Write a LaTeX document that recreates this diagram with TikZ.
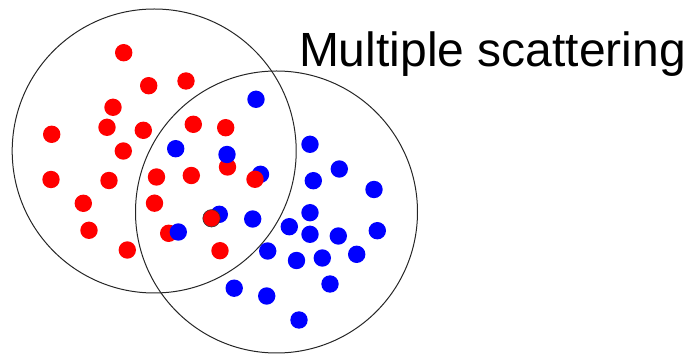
\documentclass[tikz,border=0pt]{standalone}
\usepackage{fontspec}
\setmainfont{Liberation Sans}
\begin{document}
\begin{tikzpicture}[x=1pt,y=-1pt,
  ring/.style={circle,draw=black!85,line width=1pt,inner sep=0pt,fill=none},
  reddot/.style={circle,fill={rgb,255:red,255;green,0;blue,0},inner sep=0pt,minimum size=17.4pt,draw=none},
  bluedot/.style={circle,fill={rgb,255:red,0;green,0;blue,255},inner sep=0pt,minimum size=17.4pt,draw=none},
  outlined/.style={draw=black!80,line width=0.6pt},
  title/.style={inner sep=0pt,anchor=base west,font=\fontsize{48}{58}\selectfont}]
\useasboundingbox (0,0) rectangle (689,355);
% large circles
\node[ring,minimum size=284pt] (c1) at (154.2,151) {};
\node[ring,minimum size=282pt] (c2) at (276.5,212) {};
% title
\node[title] (t) at (298.8,66.7) {Multiple scattering};
% red dots (below)
\foreach \n/\x/\y in {r1/123.7/52.7, r2/148.7/85.7, r3/186/81, r4/113/107.3,
  r5/51.7/134.3, r6/107/127.3, r7/143.3/130.3, r8/123.3/151, r9/193.3/124.3,
  r10/225.7/127.7, r11/227.5/167, r12/51/179.5, r13/109/180.5, r14/156.5/177,
  r15/191.3/175.5, r17/83.3/203.3, r18/154.5/203.2, r19/89/230.3,
  r20/127.3/250, r21/168.7/233.3, r23/220/250.7}
  \node[reddot] (\n) at (\x,\y) {};
% blue dots
\foreach \n/\x/\y in {b1/256/99.3, b2/175.7/148.7, b3/227/154.5, b4/260.5/174.3,
  b5/310/144.3, b6/339.3/169, b7/313.3/180.7, b8/374/189.5, b9/219.3/214.3,
  b10/178.3/232, b11/252.7/219, b12/310/212.7, b13/289.3/226.7, b14/310/234.3,
  b15/338.3/236, b16/377.3/230.7, b17/267.7/251, b18/296.5/260.5,
  b19/322.3/258, b20/356.7/254.3, b21/330/284, b22/234.2/288.2,
  b23/266.7/296, b24/299/320}
  \node[bluedot] (\n) at (\x,\y) {};
% red dots on top
\node[reddot] (r16) at (255,179.3) {};
\node[reddot,outlined] (r22) at (211.5,218.3) {};
\end{tikzpicture}
\end{document}
